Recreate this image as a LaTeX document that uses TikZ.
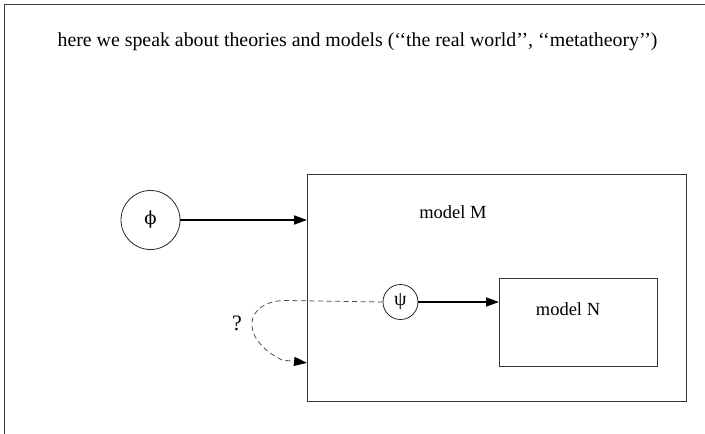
\documentclass[tikz,border=0pt]{standalone}
\usepackage{fontspec}
\setmainfont{Liberation Serif}
\newfontfamily\symbolserif{DejaVu Serif}
\usetikzlibrary{arrows.meta}

\tikzset{
  every node/.style={font=\fontsize{18.5}{22}\selectfont},
  frameline/.style={draw=black!75, line width=1.3pt},
  modelbox/.style={draw=black!80, line width=0.9pt},
  varcircle/.style={circle, draw=black!85, line width=0.8pt, inner sep=0pt},
  strongarrow/.style={line width=1.8pt, -{Triangle[length=13pt,width=9pt]}},
  questionarrow/.style={draw=black!70, line width=0.8pt, dash pattern=on 5pt off 3.5pt,
    -{Triangle[length=13pt,width=9pt,color=black]}},
}

\begin{document}
\begin{tikzpicture}[x=1pt, y=-1pt]
  \useasboundingbox (0,0) rectangle (705,434);

  % outer frame: the metatheory level
  \draw[frameline] (4.5,440) -- (4.5,4.5) -- (710,4.5);
  \node[anchor=base, font=\fontsize{19.85}{23}\selectfont] (title) at (357.5,46)
    {here we speak about theories and models (‘‘the real world’’, ‘‘metatheory’’)};

  % model M and the embedded model N
  \node[modelbox, minimum width=379pt, minimum height=227pt, anchor=north west] (M) at (307,174) {};
  \node (Mlabel) at (453,212) {model M};
  \node[modelbox, minimum width=158pt, minimum height=88pt, anchor=north west] (N) at (499,278) {};
  \node (Nlabel) at (568,309) {model N};

  % formulas
  \node[varcircle, minimum size=59pt, font=\symbolserif\fontsize{18}{20}\selectfont] (phi) at (150.5,220) {ϕ};
  \node[varcircle, minimum size=35pt, font=\fontsize{20}{22}\selectfont] (psi) at (400.5,302) {ψ};

  \draw[strongarrow] (phi.east) -- (phi.east -| M.west);
  \draw[strongarrow] (psi.east) -- (psi.east -| N.west);

  % open question: does psi hold back in M?
  \coordinate (qstart) at (285,300.5);
  \coordinate (qend) at ([yshift=39pt]M.south west);
  \draw[questionarrow] (psi.west) -- (qstart)
    .. controls (245,301) and (238,338) .. (282,360) -- (qend);
  \node[font=\fontsize{22}{26}\selectfont] (q) at (237,323) {?};
\end{tikzpicture}
\end{document}
